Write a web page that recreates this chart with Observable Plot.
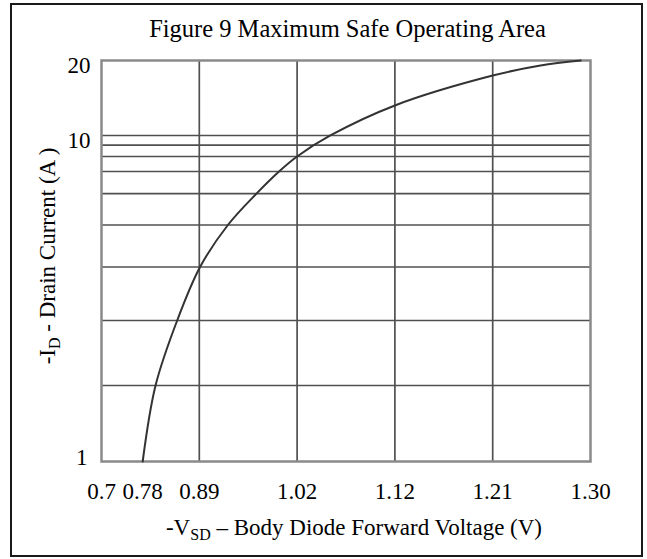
<!DOCTYPE html>
<html>
<head>
<meta charset="utf-8">
<script src="https://cdn.jsdelivr.net/npm/d3@7"></script>
<script src="https://cdn.jsdelivr.net/npm/@observablehq/plot@0.6"></script>
<style>
  body { margin: 0; background: #fff; }
  #wrap { position: relative; width: 647px; height: 559px; font-family: "Liberation Serif", "Times New Roman", serif; color: #000; }
  #border { position: absolute; left: 10px; top: 3px; width: 633px; height: 554px; box-sizing: border-box; border: 2px solid #1a1a1a; pointer-events: none; }
  #title { position: absolute; left: 0; top: 17px; width: 695px; text-align: center; font-size: 24.5px; line-height: 24px; white-space: nowrap; }
  #chart { position: absolute; left: 0; top: 0; }
</style>
</head>
<body>
<div id="wrap">
  <div id="chart"></div>
  <div id="border"></div>
  <div id="title">Figure 9 Maximum Safe Operating Area</div>
</div>
<script>
// ---- data ----
const xTickValues = [0.7, 0.78, 0.89, 1.02, 1.12, 1.21, 1.30];
const xTickLabels = ["0.7", "0.78", "0.89", "1.02", "1.12", "1.21", "1.30"];
const xGridValues = [0.7, 0.89, 1.02, 1.12, 1.21, 1.30];
const yTickValues = [1, 10, 20];
const yTickLabels = ["1", "10", "20"];
const yGridValues = [1, 2, 3, 4, 5, 6, 7, 8, 9, 10, 20];
const vsd = [0.78, 0.805, 0.847, 0.891, 0.928, 0.966, 0.996, 1.02, 1.054, 1.12, 1.21, 1.254, 1.291];
const idA = [1, 2, 3, 4, 5, 6, 7, 8, 10, 13.2, 17.4, 19.1, 20];

const curveData = vsd.map((v, i) => ({v, i: idA[i]}));
const xLabelMap = new Map(xTickValues.map((d, i) => [d, xTickLabels[i]]));
const yLabelMap = new Map(yTickValues.map((d, i) => [d, yTickLabels[i]]));

// ---- layout ----
const W = 647, H = 559, mL = 101, mR = 57, mT = 60, mB = 98;
const plotBottom = H - mB, plotTop = mT;
// relative heights of the printed (non-uniform) log grid lines
const yGridFrac = [0, 0.1895, 0.3516, 0.485, 0.5898, 0.668, 0.7232, 0.7606, 0.789, 0.813, 1];

const gridStroke = "#505050";
const plot = Plot.plot({
  width: W, height: H,
  marginLeft: mL, marginRight: mR, marginTop: mT, marginBottom: mB,
  style: {fontFamily: "Liberation Serif, Times New Roman, serif", fontSize: "23px", color: "#000", background: "transparent"},
  x: {type: "linear", domain: xGridValues, axis: null},
  y: {type: "log", domain: yGridValues, range: yGridFrac.map(f => plotBottom - f * (plotBottom - plotTop)), axis: null},
  marks: [
    Plot.ruleY(yGridValues.slice(1, -1), {stroke: gridStroke, strokeWidth: 1.7}),
    Plot.ruleX(xGridValues.slice(1, -1), {stroke: gridStroke, strokeWidth: 1.7}),
    Plot.frame({stroke: "#8a8a8a", strokeWidth: 2.5}),
    Plot.line(curveData, {x: "v", y: "i", stroke: "#333", strokeWidth: 2, curve: "catmull-rom"}),
    Plot.axisX(xTickValues, {tickSize: 0, tickPadding: 21, tickFormat: d => xLabelMap.get(d), fontSize: 23, label: null}),
    Plot.axisY([10, 20], {tickSize: 0, tickPadding: 11, dy: 5, tickFormat: d => yLabelMap.get(d), fontSize: 23, label: null}),
    Plot.axisY([1], {tickSize: 0, tickPadding: 14, dy: -4, tickFormat: d => yLabelMap.get(d), fontSize: 23, label: null})
  ]
});

const svg = d3.select(plot);
// x axis title with subscript
const xt = svg.append("text")
  .attr("x", 354).attr("y", 535)
  .attr("text-anchor", "middle")
  .attr("font-size", 23).attr("fill", "#000");
xt.append("tspan").text("-V");
xt.append("tspan").attr("font-size", 16).attr("dy", 5).text("SD");
xt.append("tspan").attr("dy", -5).text(" \u2013 Body Diode Forward Voltage (V)");

// y axis title with subscript
const yt = svg.append("text")
  .attr("transform", "translate(55,256) rotate(-90)")
  .attr("text-anchor", "middle")
  .attr("font-size", 23).attr("fill", "#000");
yt.append("tspan").text("-I");
yt.append("tspan").attr("font-size", 16).attr("dy", 5).text("D");
yt.append("tspan").attr("dy", -5).text(" - Drain Current (A )");

document.getElementById("chart").appendChild(plot);
</script>
</body>
</html>
